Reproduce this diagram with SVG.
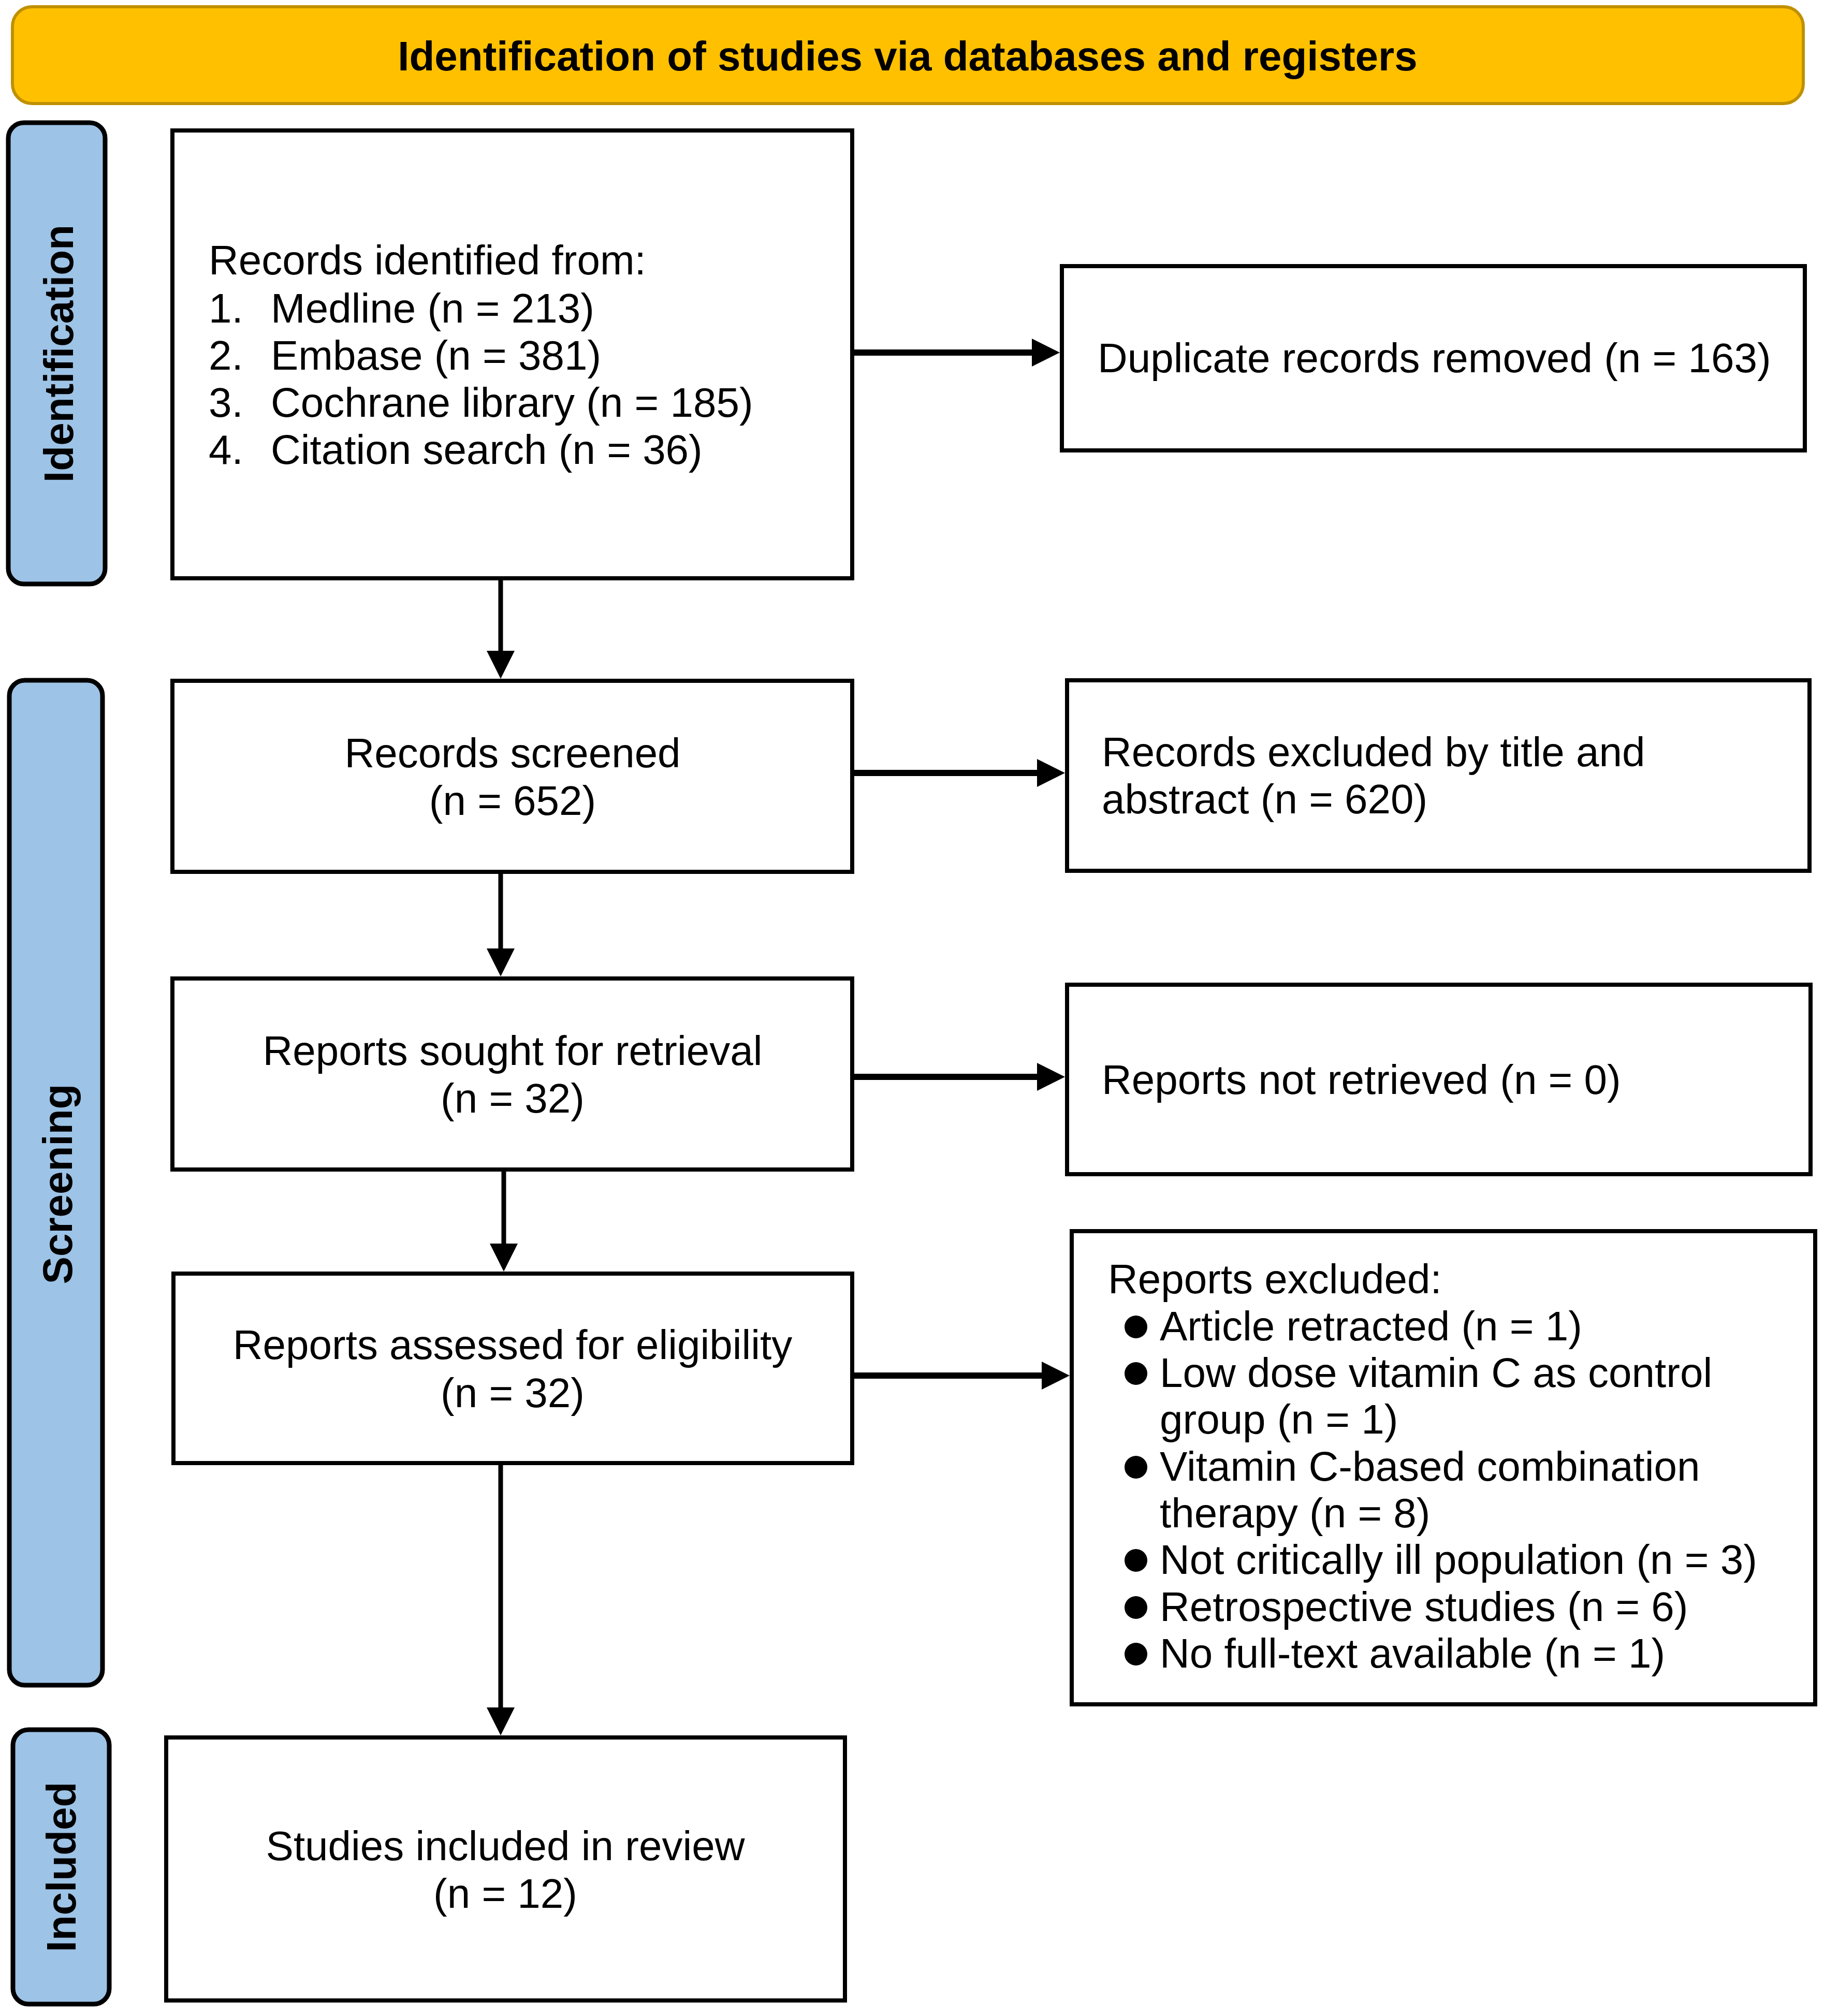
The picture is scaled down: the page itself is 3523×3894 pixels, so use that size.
<svg xmlns="http://www.w3.org/2000/svg" width="3523" height="3894" viewBox="0 0 3523 3894">
<style>
.box{fill:#fff;stroke:#000;stroke-width:8}
.side{fill:#9DC3E6;stroke:#000;stroke-width:9}
.t{font-family:"Liberation Sans",Arial,sans-serif;font-size:80px;fill:#000}
.c{text-anchor:middle}
.b{font-weight:bold}
.v{stroke:#000;stroke-width:9;fill:none}
.h{stroke:#000;stroke-width:12;fill:none}
</style>
<defs>
<marker id="ah" markerUnits="userSpaceOnUse" markerWidth="56" markerHeight="56" refX="2" refY="27" orient="auto" viewBox="0 0 56 56">
<path d="M0,0 L54,27 L0,54 Z" fill="#000"/>
</marker>
</defs>
<rect width="3523" height="3894" fill="#fff"/>
<g id="header">
<rect x="24" y="13" width="3459" height="187" rx="38" fill="#FFC000" stroke="#BF9000" stroke-width="6"/>
<text class="t b c" x="1753" y="136">Identification of studies via databases and registers</text>
</g>
<g id="label-identification">
<rect class="side" x="16" y="237" width="187" height="891" rx="30"/>
<text class="t b c" transform="translate(141,683) rotate(-90)">Identification</text>
</g>
<g id="label-screening">
<rect class="side" x="18" y="1314" width="180" height="1941" rx="30"/>
<text class="t b c" transform="translate(139,2287) rotate(-90)">Screening</text>
</g>
<g id="label-included">
<rect class="side" x="25" y="3341" width="186" height="530" rx="30"/>
<text class="t b c" transform="translate(146,3606) rotate(-90)">Included</text>
</g>
<g id="records-identified">
<rect class="box" x="333" y="252" width="1313" height="865"/>
<text class="t" x="403" y="530">Records identified from:</text>
<text class="t" x="403" y="623">1.</text><text class="t" x="523" y="623">Medline (n = 213)</text>
<text class="t" x="403" y="714">2.</text><text class="t" x="523" y="714">Embase (n = 381)</text>
<text class="t" x="403" y="805">3.</text><text class="t" x="523" y="805">Cochrane library (n = 185)</text>
<text class="t" x="403" y="896">4.</text><text class="t" x="523" y="896">Citation search (n = 36)</text>
</g>
<g id="duplicates-removed">
<rect class="box" x="2051" y="514" width="1435" height="356"/>
<text class="t" x="2120" y="719">Duplicate records removed (n = 163)</text>
</g>
<g id="records-screened">
<rect class="box" x="333" y="1315" width="1313" height="369"/>
<text class="t c" x="990" y="1482">Records screened</text>
<text class="t c" x="990" y="1574">(n = 652)</text>
</g>
<g id="records-excluded">
<rect class="box" x="2061" y="1314" width="1434" height="368"/>
<text class="t" x="2128" y="1480">Records excluded by title and</text>
<text class="t" x="2128" y="1571">abstract (n = 620)</text>
</g>
<g id="reports-sought">
<rect class="box" x="333" y="1890" width="1313" height="369"/>
<text class="t c" x="990" y="2057">Reports sought for retrieval</text>
<text class="t c" x="990" y="2149">(n = 32)</text>
</g>
<g id="reports-not-retrieved">
<rect class="box" x="2061" y="1902" width="1436" height="366"/>
<text class="t" x="2128" y="2113">Reports not retrieved (n = 0)</text>
</g>
<g id="reports-assessed">
<rect class="box" x="335" y="2460" width="1311" height="366"/>
<text class="t c" x="990" y="2625">Reports assessed for eligibility</text>
<text class="t c" x="990" y="2718">(n = 32)</text>
</g>
<g id="reports-excluded">
<rect class="box" x="2070" y="2378" width="1436" height="914"/>
<text class="t" x="2140" y="2498">Reports excluded:</text>
<circle cx="2194" cy="2563" r="22"/>
<text class="t" x="2240" y="2589">Article retracted (n = 1)</text>
<circle cx="2194" cy="2653" r="22"/>
<text class="t" x="2240" y="2679">Low dose vitamin C as control</text>
<text class="t" x="2240" y="2769">group (n = 1)</text>
<circle cx="2194" cy="2834" r="22"/>
<text class="t" x="2240" y="2860">Vitamin C-based combination</text>
<text class="t" x="2240" y="2950">therapy (n = 8)</text>
<circle cx="2194" cy="3014" r="22"/>
<text class="t" x="2240" y="3040">Not critically ill population (n = 3)</text>
<circle cx="2194" cy="3105" r="22"/>
<text class="t" x="2240" y="3131">Retrospective studies (n = 6)</text>
<circle cx="2194" cy="3195" r="22"/>
<text class="t" x="2240" y="3221">No full-text available (n = 1)</text>
</g>
<g id="studies-included">
<rect class="box" x="321" y="3356" width="1311" height="508"/>
<text class="t c" x="976" y="3593">Studies included in review</text>
<text class="t c" x="976" y="3685">(n = 12)</text>
</g>
<g id="connectors">
<line class="v" x1="967" y1="1117" x2="967" y2="1259" marker-end="url(#ah)"/>
<line class="v" x1="967" y1="1684" x2="967" y2="1834" marker-end="url(#ah)"/>
<line class="v" x1="973" y1="2259" x2="973" y2="2404" marker-end="url(#ah)"/>
<line class="v" x1="967" y1="2826" x2="967" y2="3300" marker-end="url(#ah)"/>
<line class="h" x1="1646" y1="681" x2="1995" y2="681" marker-end="url(#ah)"/>
<line class="h" x1="1646" y1="1493" x2="2005" y2="1493" marker-end="url(#ah)"/>
<line class="h" x1="1646" y1="2080" x2="2005" y2="2080" marker-end="url(#ah)"/>
<line class="h" x1="1646" y1="2657" x2="2014" y2="2657" marker-end="url(#ah)"/>
</g>
</svg>
